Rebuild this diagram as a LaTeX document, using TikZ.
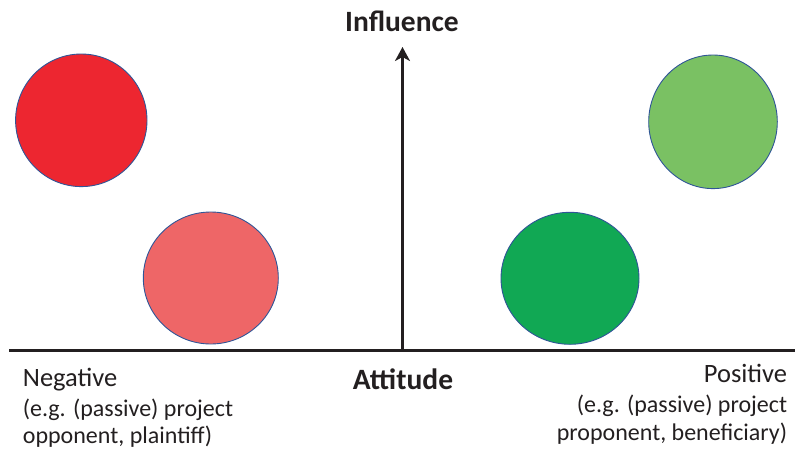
\documentclass[tikz,border=0pt]{standalone}
\usepackage{fontspec}
\setmainfont{Carlito}
\usetikzlibrary{shapes.geometric,arrows.meta}
\definecolor{cred}{HTML}{ED2630}
\definecolor{cpink}{HTML}{EE6667}
\definecolor{cdgreen}{HTML}{11A854}
\definecolor{clgreen}{HTML}{7AC163}
\definecolor{cedge}{HTML}{2F5597}
\definecolor{caxis}{HTML}{231F20}
\definecolor{ctext}{HTML}{231F20}
\tikzset{
  blob/.style={ellipse, draw=cedge, line width=0.9pt, inner sep=0pt},
  axisline/.style={draw=caxis, line width=2.7pt},
  vaxis/.style={draw=caxis, line width=2.2pt, -{Stealth[length=14pt,width=15pt,inset=4pt]}},
  bigtitle/.style={font=\fontsize{29.5}{33}\selectfont\bfseries, text=ctext, inner sep=0pt},
  side/.style={font=\fontsize{26.5}{30}\selectfont, text=ctext, inner sep=0pt},
  sub/.style={font=\fontsize{24}{28}\selectfont, text=ctext, inner sep=0pt}
}
\begin{document}
\begin{tikzpicture}[x=1pt,y=-1pt]
\useasboundingbox (0,0) rectangle (795,450);
% circles
\node[blob, fill=cred, minimum width=131.4pt, minimum height=132.6pt] (c1) at (81.3,120.3) {};
\node[blob, fill=cpink, minimum width=135pt, minimum height=132pt] (c2) at (210.8,278) {};
\node[blob, fill=cdgreen, minimum width=138pt, minimum height=132pt] (c3) at (570,278.3) {};
\node[blob, fill=clgreen, minimum width=128.6pt, minimum height=133.6pt] (c4) at (713,121.8) {};
% axes
\coordinate (xs) at (9,350.5);
\coordinate (xe) at (795,350.5);
\coordinate (o) at (402.5,350.5);
\coordinate (yt) at (402.5,47);
\draw[axisline] (xs) -- (xe);
\draw[vaxis] (o) -- (yt);
% labels
\node[bigtitle, anchor=base] (infl) at (402,31) {Influence};
\node[bigtitle, anchor=base] (att) at (403,389) {Attitude};
\node[side, anchor=base west] (neg1) at (22.7,386.5) {Negative};
\node[sub, anchor=base west] (neg2) at (22.7,416) {(e.g. (passive) project};
\node[sub, anchor=base west] (neg3) at (22.7,443.5) {opponent, plaintiff)};
\node[side, anchor=base east] (pos1) at (787.3,382) {Positive};
\node[sub, anchor=base east] (pos2) at (787.3,412) {(e.g. (passive) project};
\node[sub, anchor=base east] (pos3) at (787.3,440) {proponent, beneficiary)};
\end{tikzpicture}
\end{document}
